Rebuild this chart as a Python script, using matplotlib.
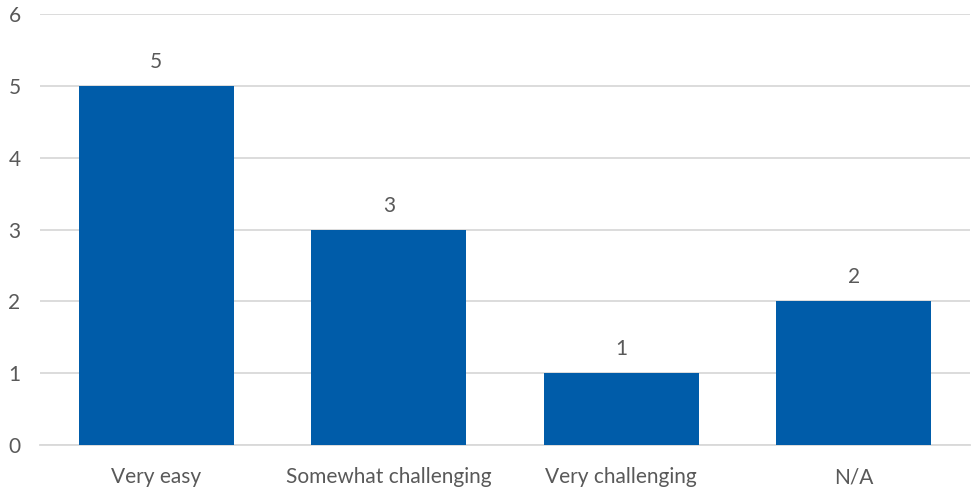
import matplotlib
matplotlib.use("Agg")
import matplotlib.pyplot as plt

categories = ["Very easy", "Somewhat challenging", "Very challenging", "N/A"]
values = [5, 3, 1, 2]
yticks = [0, 1, 2, 3, 4, 5, 6]

plt.rcParams['font.family'] = ['Lato', 'DejaVu Sans']
text_color = "#595959"

fig = plt.figure(figsize=(9.71, 4.87), dpi=100)
ax = fig.add_axes([0.0412, 0.0862, 0.9578, 0.8850])
x = list(range(len(categories)))
ax.bar(x, values, width=0.667, color="#005CA9", zorder=3)
for xi, v in zip(x, values):
    ax.annotate(str(v), (xi, v), xytext=(0, 10), textcoords="offset points",
                ha="center", va="bottom", fontsize=15, color=text_color)
ax.set_xlim(-0.5, len(categories) - 0.5)
ax.set_ylim(0, 6)
ax.set_yticks(yticks)
ax.set_yticklabels([str(t) for t in yticks], fontsize=15, color=text_color)
ax.set_xticks(x)
ax.set_xticklabels(categories, fontsize=15, color=text_color)
ax.yaxis.grid(True, color="#D9D9D9", linewidth=1.3, zorder=0)
ax.tick_params(axis="both", length=0)
ax.tick_params(axis="y", pad=14)
ax.tick_params(axis="x", pad=16)
for s in ["top", "right", "left"]:
    ax.spines[s].set_visible(False)
ax.spines["bottom"].set_color("#D9D9D9")
ax.spines["bottom"].set_linewidth(1.3)
fig.savefig("out.png", dpi=100)
